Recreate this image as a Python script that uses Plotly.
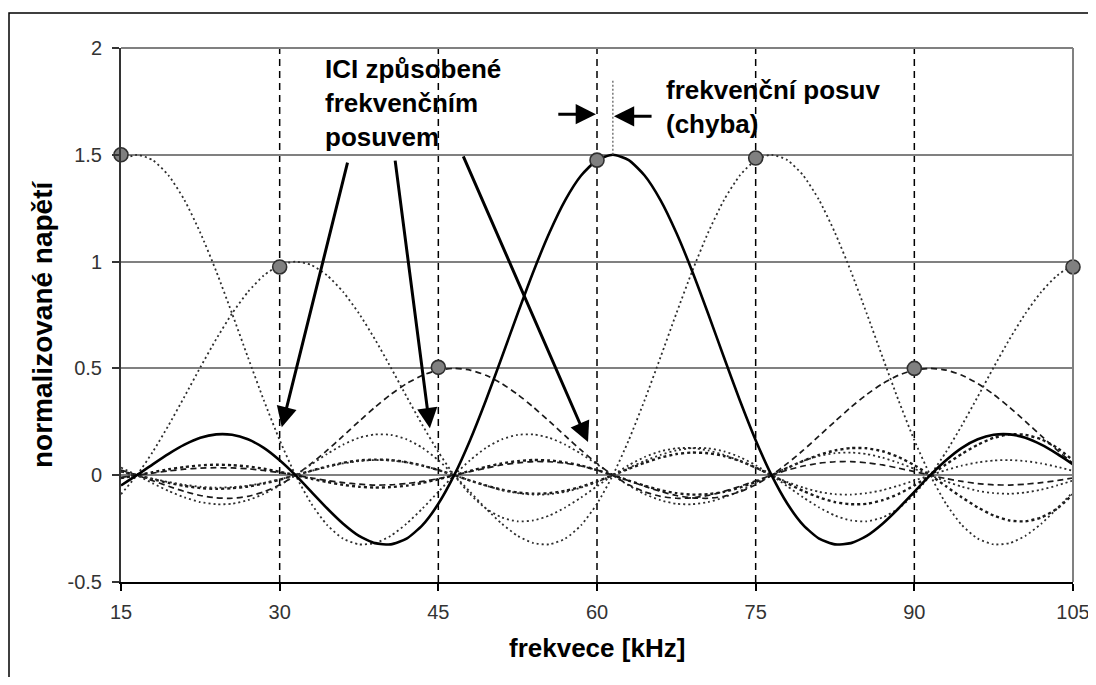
import plotly.graph_objects as go

# ---------------- data ----------------
freq_khz = [15, 16.5, 18, 19.5, 21, 22.5, 24, 25.5, 27, 28.5,
            30, 31.5, 33, 34.5, 36, 37.5, 39, 40.5, 42, 43.5,
            45, 46.5, 48, 49.5, 51, 52.5, 54, 55.5, 57, 58.5,
            60, 61.5, 63, 64.5, 66, 67.5, 69, 70.5, 72, 73.5,
            75, 76.5, 78, 79.5, 81, 82.5, 84, 85.5, 87, 88.5,
            90, 91.5, 93, 94.5, 96, 97.5, 99, 100.5, 102, 103.5,
            105]

# subcarrier near 15 kHz (amplitude 1.5)
sub_15 = [1.475, 1.5, 1.475, 1.403, 1.288, 1.135, 0.955, 0.757, 0.552, 0.351,
          0.164, 0, -0.134, -0.234, -0.297, -0.324, -0.318, -0.284, -0.227, -0.156,
          -0.078, 0, 0.070, 0.128, 0.168, 0.189, 0.191, 0.175, 0.143, 0.100,
          0.051, 0, -0.048, -0.088, -0.117, -0.134, -0.136, -0.126, -0.104, -0.074,
          -0.038, 0, 0.036, 0.067, 0.090, 0.103, 0.106, 0.099, 0.082, 0.058,
          0.030, 0, -0.029, -0.054, -0.073, -0.084, -0.087, -0.081, -0.068, -0.048,
          -0.025]
# subcarrier near 30 kHz (amplitude 1.0)
sub_30 = [-0.089, 0, 0.109, 0.234, 0.368, 0.505, 0.637, 0.757, 0.858, 0.935,
          0.984, 1.0, 0.984, 0.935, 0.858, 0.757, 0.637, 0.505, 0.368, 0.234,
          0.109, 0, -0.089, -0.156, -0.198, -0.216, -0.212, -0.189, -0.151, -0.104,
          -0.052, 0, 0.047, 0.085, 0.112, 0.126, 0.127, 0.116, 0.095, 0.067,
          0.034, 0, -0.032, -0.058, -0.078, -0.089, -0.091, -0.084, -0.070, -0.049,
          -0.025, 0, 0.024, 0.045, 0.060, 0.069, 0.071, 0.066, 0.055, 0.039,
          0.020]
# subcarrier near 45 kHz (amplitude 0.5)
sub_45 = [0.024, 0, -0.026, -0.052, -0.076, -0.095, -0.106, -0.108, -0.099, -0.078,
          -0.045, 0, 0.055, 0.117, 0.184, 0.252, 0.318, 0.378, 0.429, 0.468,
          0.492, 0.5, 0.492, 0.468, 0.429, 0.378, 0.318, 0.252, 0.184, 0.117,
          0.055, 0, -0.045, -0.078, -0.099, -0.108, -0.106, -0.095, -0.076, -0.052,
          -0.026, 0, 0.024, 0.043, 0.056, 0.063, 0.064, 0.058, 0.048, 0.033,
          0.017, 0, -0.016, -0.029, -0.039, -0.045, -0.046, -0.042, -0.035, -0.025,
          -0.013]
# shifted subcarrier near 60 kHz (solid, amplitude 1.5)
sub_60_shifted = [-0.048, 0, 0.051, 0.100, 0.143, 0.175, 0.191, 0.189, 0.168, 0.128,
                  0.070, 0, -0.078, -0.156, -0.227, -0.284, -0.318, -0.324, -0.297, -0.234,
                  -0.134, 0, 0.164, 0.351, 0.552, 0.757, 0.955, 1.135, 1.288, 1.403,
                  1.475, 1.5, 1.475, 1.403, 1.288, 1.135, 0.955, 0.757, 0.552, 0.351,
                  0.164, 0, -0.134, -0.234, -0.297, -0.324, -0.318, -0.284, -0.227, -0.156,
                  -0.078, 0, 0.070, 0.128, 0.168, 0.189, 0.191, 0.175, 0.143, 0.100,
                  0.051]
# subcarrier near 75 kHz (amplitude 1.5)
sub_75 = [0.036, 0, -0.038, -0.074, -0.104, -0.126, -0.136, -0.134, -0.117, -0.088,
          -0.048, 0, 0.051, 0.100, 0.143, 0.175, 0.191, 0.189, 0.168, 0.128,
          0.070, 0, -0.078, -0.156, -0.227, -0.284, -0.318, -0.324, -0.297, -0.234,
          -0.134, 0, 0.164, 0.351, 0.552, 0.757, 0.955, 1.135, 1.288, 1.403,
          1.475, 1.5, 1.475, 1.403, 1.288, 1.135, 0.955, 0.757, 0.552, 0.351,
          0.164, 0, -0.134, -0.234, -0.297, -0.324, -0.318, -0.284, -0.227, -0.156,
          -0.078]
# subcarrier near 90 kHz (amplitude 0.5)
sub_90 = [-0.010, 0, 0.010, 0.020, 0.028, 0.033, 0.035, 0.034, 0.030, 0.022,
          0.012, 0, -0.013, -0.025, -0.035, -0.042, -0.046, -0.045, -0.039, -0.029,
          -0.016, 0, 0.017, 0.033, 0.048, 0.058, 0.064, 0.063, 0.056, 0.043,
          0.024, 0, -0.026, -0.052, -0.076, -0.095, -0.106, -0.108, -0.099, -0.078,
          -0.045, 0, 0.055, 0.117, 0.184, 0.252, 0.318, 0.378, 0.429, 0.468,
          0.492, 0.5, 0.492, 0.468, 0.429, 0.378, 0.318, 0.252, 0.184, 0.117,
          0.055]
# subcarrier near 105 kHz (amplitude 1.0)
sub_105 = [0.016, 0, -0.017, -0.032, -0.045, -0.054, -0.058, -0.056, -0.049, -0.036,
           -0.019, 0, 0.020, 0.039, 0.055, 0.066, 0.071, 0.069, 0.060, 0.045,
           0.024, 0, -0.025, -0.049, -0.070, -0.084, -0.091, -0.089, -0.078, -0.058,
           -0.032, 0, 0.034, 0.067, 0.095, 0.116, 0.127, 0.126, 0.112, 0.085,
           0.047, 0, -0.052, -0.104, -0.151, -0.189, -0.212, -0.216, -0.198, -0.156,
           -0.089, 0, 0.109, 0.234, 0.368, 0.505, 0.637, 0.757, 0.858, 0.935,
           0.984]
# subcarrier near 120 kHz (only side lobes visible)
sub_120 = [-0.014, 0, 0.014, 0.028, 0.038, 0.046, 0.049, 0.047, 0.041, 0.030,
           0.016, 0, -0.017, -0.032, -0.045, -0.054, -0.058, -0.056, -0.049, -0.036,
           -0.019, 0, 0.020, 0.039, 0.055, 0.066, 0.071, 0.069, 0.060, 0.045,
           0.024, 0, -0.025, -0.049, -0.070, -0.084, -0.091, -0.089, -0.078, -0.058,
           -0.032, 0, 0.034, 0.067, 0.095, 0.116, 0.127, 0.126, 0.112, 0.085,
           0.047, 0, -0.052, -0.104, -0.151, -0.189, -0.212, -0.216, -0.198, -0.156,
           -0.089]
# subcarrier near 135 kHz (only side lobes visible)
sub_135 = [0.018, 0, -0.019, -0.036, -0.050, -0.060, -0.064, -0.061, -0.053, -0.039,
           -0.021, 0, 0.021, 0.041, 0.058, 0.069, 0.073, 0.071, 0.061, 0.045,
           0.024, 0, -0.025, -0.048, -0.068, -0.081, -0.087, -0.084, -0.073, -0.054,
           -0.029, 0, 0.030, 0.058, 0.082, 0.099, 0.106, 0.103, 0.090, 0.067,
           0.036, 0, -0.038, -0.074, -0.104, -0.126, -0.136, -0.134, -0.117, -0.088,
           -0.048, 0, 0.051, 0.100, 0.143, 0.175, 0.191, 0.189, 0.168, 0.128,
           0.070]

# sampled values (grey circles)
marker_freq = [15, 30, 45, 60, 75, 90, 105]
marker_level = [1.5, 0.975, 0.505, 1.475, 1.485, 0.5, 0.975]

x_tick_vals = [15, 30, 45, 60, 75, 90, 105]
y_tick_vals = [-0.5, 0, 0.5, 1, 1.5, 2]
y_tick_text = ["-0.5", "0", "0.5", "1", "1.5", "2"]
carrier_freqs = [30, 45, 60, 75, 90]
shifted_peak_freq = 61.5

x_title = "frekvece [kHz]"
y_title = "normalizované napětí"
ici_text = "ICI způsobené<br>frekvenčním<br>posuvem"
shift_text = "frekvenční posuv<br>(chyba)"

# ---------------- figure ----------------
FONT = "Liberation Sans, Arial, sans-serif"
OFF = 8                      # page body margin of the html page
W, H = 1096 - OFF, 685 - 2 * OFF
PLOT_L, PLOT_R, PLOT_T, PLOT_B = 121, 1073, 48, 582   # target window pixels
L, T = PLOT_L - OFF, PLOT_T - OFF
R, B = W - (PLOT_R - OFF), H - (PLOT_B - OFF)
PW, PH = PLOT_R - PLOT_L, PLOT_B - PLOT_T


def px_x(p):
    return (p - PLOT_L) / PW


def px_y(p):
    return (PLOT_B - p) / PH


fig = go.Figure()

dot_style = dict(color="#2e2e2e", width=1.8, dash="2px,3px")
small_style = dict(color="#1a1a1a", width=2.4, dash="3px,3px")
dash_style = dict(color="#1a1a1a", width=1.7, dash="6px,4px")

series = [
    (sub_120, small_style),
    (sub_135, small_style),
    (sub_15, dot_style),
    (sub_30, dot_style),
    (sub_45, dash_style),
    (sub_75, dot_style),
    (sub_90, dash_style),
    (sub_105, dot_style),
]
for vals, st in series:
    fig.add_trace(go.Scatter(x=freq_khz, y=vals, mode="lines",
                             line=dict(shape="spline", smoothing=0.6, **st),
                             hoverinfo="skip", showlegend=False))

fig.add_trace(go.Scatter(x=freq_khz, y=sub_60_shifted, mode="lines",
                         line=dict(color="#000000", width=2.6, shape="spline", smoothing=0.6),
                         hoverinfo="skip", showlegend=False))

fig.add_trace(go.Scatter(x=marker_freq, y=marker_level, mode="markers",
                         marker=dict(size=14, color="#808080",
                                     line=dict(color="#303030", width=1.6)),
                         cliponaxis=False, hoverinfo="skip", showlegend=False))

shapes = []
for f in carrier_freqs:
    shapes.append(dict(type="line", xref="x", yref="y", x0=f, x1=f, y0=-0.5, y1=2,
                       line=dict(color="#000000", width=1.5, dash="7px,5px"), layer="below"))
# thin dotted marker of the shifted peak
shapes.append(dict(type="line", xref="x", yref="y", x0=shifted_peak_freq, x1=shifted_peak_freq,
                   y0=1.5, y1=1.85, line=dict(color="#555555", width=1.2, dash="2px,2px")))
# plot border (top and right, grey)
shapes.append(dict(type="line", xref="paper", yref="paper", x0=0, x1=1, y0=1, y1=1,
                   line=dict(color="#808080", width=2)))
shapes.append(dict(type="line", xref="paper", yref="paper", x0=1, x1=1, y0=0, y1=1,
                   line=dict(color="#808080", width=2)))
# outer chart frame
shapes.append(dict(type="rect", xref="paper", yref="paper",
                   x0=px_x(9), x1=px_x(1090), y0=px_y(700), y1=px_y(13),
                   line=dict(color="#000000", width=1.5)))

bold = dict(family=FONT, size=26, color="#000000", weight="bold")
bold_y = dict(family=FONT, size=28, color="#000000", weight="bold")

annotations = [
    dict(xref="paper", yref="paper", x=px_x(323), y=px_y(52), xanchor="left", yanchor="top",
         align="left", text=ici_text, showarrow=False, font=bold),
    dict(xref="paper", yref="paper", x=px_x(664), y=px_y(73), xanchor="left", yanchor="top",
         align="left", text=shift_text, showarrow=False, font=bold),
    dict(xref="paper", yref="paper", x=0.5, y=px_y(648), xanchor="center", yanchor="middle",
         text=x_title, showarrow=False, font=bold),
    dict(xref="paper", yref="paper", x=px_x(43), y=px_y(324), xanchor="center", yanchor="middle",
         text=y_title, textangle=-90, showarrow=False, font=bold_y),
]

arrow_common = dict(text="", showarrow=True, arrowhead=2, arrowwidth=3, arrowsize=1.35,
                    arrowcolor="#000000", xref="x", yref="y", axref="x", ayref="y", standoff=0)
# ICI arrows (tip -> tail)
annotations.append(dict(x=30.2, y=0.225, ax=36.45, ay=1.47, **arrow_common))
annotations.append(dict(x=44.2, y=0.22, ax=40.9, ay=1.48, **arrow_common))
annotations.append(dict(x=59.15, y=0.155, ax=47.3, ay=1.5, **arrow_common))
# frequency shift arrows
annotations.append(dict(x=59.9, y=1.69, ax=56.2, ay=1.69, **arrow_common))
annotations.append(dict(x=61.6, y=1.68, ax=65.3, ay=1.68, **arrow_common))

fig.update_layout(
    width=W, height=H,
    margin=dict(l=L, r=R, t=T, b=B, autoexpand=False),
    paper_bgcolor="#ffffff", plot_bgcolor="#ffffff",
    font=dict(family=FONT, size=20, color="#333333"),
    showlegend=False,
    shapes=shapes,
    annotations=annotations,
    xaxis=dict(range=[15, 105], tickvals=x_tick_vals, ticks="outside", ticklen=7,
               tickwidth=1.5, tickcolor="#000000", showgrid=False, zeroline=False,
               showline=True, linecolor="#000000", linewidth=2, automargin=False,
               tickfont=dict(family=FONT, size=20, color="#333333"),
               ticklabelstandoff=4),
    yaxis=dict(range=[-0.5, 2], tickvals=y_tick_vals, ticktext=y_tick_text,
               ticks="outside", ticklen=7, tickwidth=1.5, tickcolor="#333333",
               showgrid=True, gridcolor="#808080", gridwidth=1.5,
               zeroline=True, zerolinecolor="#808080", zerolinewidth=1.5,
               showline=True, linecolor="#333333", linewidth=2, automargin=False,
               tickfont=dict(family=FONT, size=20, color="#333333"),
               ticklabelstandoff=6),
)

fig.write_html("out.html")
